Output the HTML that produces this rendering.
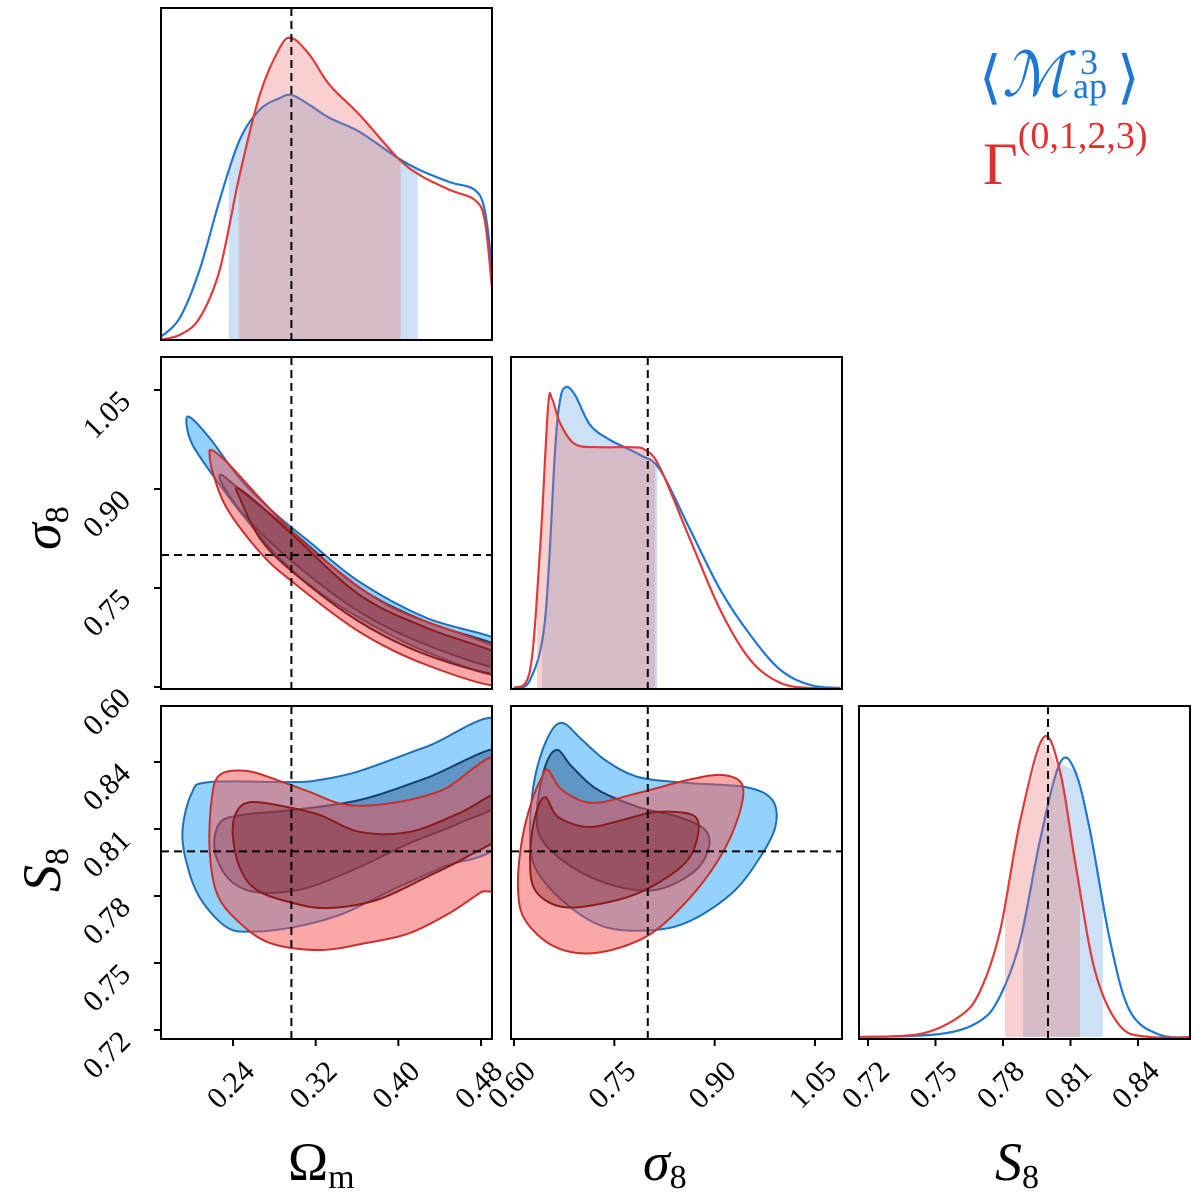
<!DOCTYPE html>
<html><head><meta charset="utf-8"><style>
body{margin:0;background:#fff}
svg{display:block}
text{font-family:"Liberation Serif","DejaVu Serif",serif;fill:#000}
</style></head><body>
<svg id="chart" width="1200" height="1200" viewBox="0 0 1200 1200" xmlns="http://www.w3.org/2000/svg">
<defs>
<clipPath id="c00"><rect x="161" y="8" width="331" height="332"/></clipPath>
<clipPath id="c01"><rect x="161" y="357" width="331" height="332"/></clipPath>
<clipPath id="c11"><rect x="511" y="357" width="331" height="332"/></clipPath>
<clipPath id="c02"><rect x="161" y="706" width="331" height="333"/></clipPath>
<clipPath id="c12"><rect x="511" y="706" width="331" height="333"/></clipPath>
<clipPath id="c22"><rect x="859" y="706" width="331" height="333"/></clipPath>
</defs>
<g id="layer"></g>
<g>
<text x="979" y="97" font-size="58" style="fill:#1f77d4">⟨</text>
<text x="1002" y="96" font-size="62" font-style="italic" style="fill:#1f77d4">ℳ</text>
<text x="1073" y="98" font-size="36" style="fill:#1f77d4">ap</text>
<text x="1080" y="74" font-size="36" style="fill:#1f77d4">3</text>
<text x="1117" y="97" font-size="58" style="fill:#1f77d4">⟩</text>
</g>
<text x="983" y="184" font-size="60" style="fill:#e03030">Γ<tspan font-size="38" dy="-36">(0,1,2,3)</tspan></text>
<text x="288" y="1180" font-size="54">Ω<tspan font-size="34" dy="8">m</tspan></text>
<text x="643" y="1180" font-size="54" font-style="italic">σ<tspan font-size="34" dy="8" font-style="normal">8</tspan></text>
<text x="995" y="1180" font-size="54" font-style="italic">S<tspan font-size="34" dy="8" font-style="normal">8</tspan></text>
<text transform="translate(60,528) rotate(-90)" font-size="54" font-style="italic" text-anchor="middle">σ<tspan font-size="34" dy="8" font-style="normal">8</tspan></text>
<text transform="translate(60,870) rotate(-90)" font-size="54" font-style="italic" text-anchor="middle">S<tspan font-size="34" dy="8" font-style="normal">8</tspan></text>
</svg>
<script>
// ---- data ----
const omTicks=[0.24,0.32,0.40,0.48];
const omTickLabels=["0.24","0.32","0.40","0.48"];
const sigTicks=[0.60,0.75,0.90,1.05];
const sigTickLabels=["0.60","0.75","0.90","1.05"];
const s8Ticks=[0.72,0.75,0.78,0.81,0.84];
const s8TickLabels=["0.72","0.75","0.78","0.81","0.84"];
const truthOm=0.2965, truthSig=0.80, truthS8=0.800;

const omGrid=[0.169,0.1884,0.2077,0.2271,0.2464,0.2658,0.2852,0.2968,0.3142,0.3336,0.3626,0.3994,0.4207,0.4497,0.4739,0.4836,0.4904,0.492];
const omBlue=[0.007,0.073,0.232,0.464,0.662,0.762,0.801,0.811,0.778,0.735,0.689,0.603,0.563,0.523,0.497,0.43,0.248,0.2];
const omRed=[0,0.017,0.073,0.232,0.546,0.811,0.967,1.0,0.944,0.844,0.745,0.603,0.546,0.497,0.464,0.397,0.182,0.13];
const omBlueCI=[0.2358,0.4188], omRedCI=[0.2455,0.4023];

const sigGridBlue=[0.6,0.624,0.6464,0.6614,0.6689,0.6778,0.6913,0.7138,0.7437,0.7886,0.8186,0.8635,0.9084,0.9533,0.9982,1.0431,1.088];
const sigBlue=[0,0.027,0.226,0.791,0.957,1.0,0.973,0.874,0.824,0.774,0.724,0.525,0.326,0.176,0.06,0.01,0];
const sigGridRed=[0.6,0.624,0.6389,0.6509,0.6569,0.6689,0.6913,0.7287,0.7737,0.7961,0.8186,0.8635,0.9084,0.9533,0.9982,1.0431,1.088];
const sigRed=[0,0.06,0.458,0.93,0.96,0.88,0.81,0.80,0.80,0.791,0.731,0.492,0.259,0.093,0.017,0,0];
const sigBlueCI=[0.6419,0.8141], sigRedCI=[0.6344,0.8111];

const s8GridBlue=[0.7155,0.752,0.7698,0.7787,0.7876,0.7964,0.8053,0.812,0.8187,0.8276,0.8364,0.8498,0.866];
const s8Blue=[0,0.01,0.054,0.137,0.321,0.656,0.916,0.890,0.689,0.321,0.087,0.007,0];
const s8GridRed=[0.7155,0.7431,0.7609,0.7698,0.7787,0.7876,0.7978,0.8053,0.812,0.8209,0.832,0.8453,0.866];
const s8Red=[0,0.01,0.07,0.154,0.355,0.722,1.0,0.89,0.589,0.221,0.037,0,0];
const s8BlueCI=[0.7889,0.8244], s8RedCI=[0.7809,0.8142];

// contours (x, y) in data units
const omSigBlueOuter=[[0.1951,0.997],[0.198,1.0091],[0.2174,0.9773],[0.2493,0.9106],[0.2823,0.8606],[0.3142,0.8197],[0.3626,0.7591],[0.4275,0.7045],[0.50,0.668],[0.50,0.617],[0.4275,0.653],[0.3626,0.7045],[0.3142,0.7545],[0.2823,0.80],[0.2493,0.8606],[0.2203,0.9212],[0.2009,0.9667]];
const omSigBlueInner=[[0.229,0.9212],[0.2493,0.8955],[0.2978,0.8348],[0.3626,0.75],[0.4275,0.6985],[0.50,0.66],[0.50,0.628],[0.4275,0.6636],[0.3626,0.7136],[0.2978,0.7894],[0.2532,0.8561],[0.23,0.9061]];
const omSigRedOuter=[[0.2174,0.9515],[0.2193,0.9591],[0.2339,0.9409],[0.2658,0.8864],[0.2978,0.8348],[0.3307,0.7894],[0.3946,0.7197],[0.50,0.654],[0.50,0.602],[0.4275,0.6333],[0.3626,0.6833],[0.2978,0.7591],[0.2658,0.8045],[0.2339,0.8712],[0.2203,0.9258]];
const omSigRedInner=[[0.2445,0.9015],[0.2658,0.8758],[0.2978,0.8303],[0.3626,0.7394],[0.4275,0.6894],[0.50,0.648],[0.50,0.618],[0.4275,0.6485],[0.3626,0.6985],[0.2978,0.7742],[0.2658,0.8258],[0.2465,0.8864]];

const omS8BlueOuter=[[0.50,0.858],[0.428,0.847],[0.363,0.836],[0.324,0.832],[0.298,0.831],[0.217,0.831],[0.200,0.826],[0.191,0.808],[0.198,0.790],[0.211,0.777],[0.234,0.766],[0.257,0.764],[0.298,0.766],[0.346,0.772],[0.395,0.783],[0.443,0.793],[0.50,0.806]];
const omS8BlueInner=[[0.50,0.846],[0.4275,0.8329],[0.3626,0.823],[0.2978,0.8185],[0.2493,0.8163],[0.2271,0.8127],[0.2222,0.8006],[0.2342,0.7885],[0.2532,0.7827],[0.2784,0.7814],[0.3142,0.784],[0.3626,0.793],[0.411,0.8037],[0.4594,0.8127],[0.50,0.823]];
const omS8RedOuter=[[0.50,0.841],[0.443,0.8275],[0.3946,0.8217],[0.35,0.8208],[0.3142,0.8266],[0.2823,0.832],[0.2532,0.836],[0.2271,0.8342],[0.2193,0.823],[0.2174,0.8006],[0.2242,0.7814],[0.2435,0.7693],[0.2755,0.759],[0.3239,0.7558],[0.3694,0.759],[0.411,0.7634],[0.4497,0.7724],[0.4788,0.7814],[0.50,0.788]];
const omS8RedInner=[[0.50,0.826],[0.4594,0.8172],[0.411,0.8087],[0.3626,0.8087],[0.3239,0.8163],[0.2919,0.8199],[0.259,0.8221],[0.2445,0.8185],[0.2397,0.8082],[0.2464,0.793],[0.2629,0.7827],[0.2978,0.7769],[0.3307,0.7746],[0.3791,0.7782],[0.4275,0.7885],[0.4662,0.7975],[0.50,0.808]];

const sigS8BlueOuter=[[0.6719,0.8575],[0.7018,0.8499],[0.7362,0.8409],[0.7856,0.8333],[0.8605,0.8306],[0.9458,0.8288],[0.9862,0.823],[0.9907,0.8109],[0.9653,0.7961],[0.9263,0.7814],[0.8665,0.7693],[0.8111,0.7648],[0.7362,0.7661],[0.6763,0.7769],[0.6314,0.793],[0.624,0.8109],[0.6314,0.8333],[0.6509,0.8512]];
const sigS8BlueInner=[[0.6644,0.8454],[0.6868,0.8378],[0.7257,0.8275],[0.7856,0.8199],[0.8455,0.8154],[0.8859,0.8096],[0.8904,0.8006],[0.8665,0.7903],[0.8111,0.7827],[0.7467,0.7849],[0.6868,0.793],[0.6419,0.8051],[0.6344,0.8185],[0.6464,0.8378]];
const sigS8RedOuter=[[0.6509,0.8364],[0.6719,0.8275],[0.7168,0.8217],[0.7856,0.8261],[0.8605,0.832],[0.9114,0.8342],[0.9413,0.8297],[0.9353,0.8154],[0.9054,0.7961],[0.856,0.7769],[0.7961,0.7616],[0.7213,0.7545],[0.6614,0.7572],[0.6165,0.7693],[0.606,0.784],[0.612,0.8051],[0.627,0.823],[0.6419,0.8333]];
const sigS8RedInner=[[0.6464,0.8243],[0.6659,0.8154],[0.7108,0.8109],[0.7617,0.814],[0.8111,0.8176],[0.8665,0.8163],[0.8754,0.8082],[0.856,0.7948],[0.7961,0.7827],[0.7362,0.7769],[0.6719,0.7751],[0.6314,0.7827],[0.624,0.7975],[0.6314,0.8154]];

// ---- axes ----
const lin=(d0,d1,r0,r1)=>v=>r0+(v-d0)/(d1-d0)*(r1-r0);
const xOm=lin(0.24,0.48,233,481);
const ySig=lin(0.60,1.05,687,390);
const xSig=lin(0.60,1.05,514,815);
const yS8=lin(0.72,0.84,1030,762);
const xS8=lin(0.72,0.84,868,1138);
const NS="http://www.w3.org/2000/svg";
const layer=document.getElementById('layer');
function el(tag,attrs,parent){const e=document.createElementNS(NS,tag);for(const k in attrs)e.setAttribute(k,attrs[k]);(parent||layer).appendChild(e);return e;}
function smooth(pts,closed){
  const n=pts.length;let d=`M${pts[0][0].toFixed(1)},${pts[0][1].toFixed(1)}`;
  const g=i=>closed?pts[(i+n)%n]:pts[Math.max(0,Math.min(n-1,i))];
  const m=closed?n:n-1;
  for(let i=0;i<m;i++){const p0=g(i-1),p1=g(i),p2=g(i+1),p3=g(i+2);
    const c1=[p1[0]+(p2[0]-p0[0])/6,p1[1]+(p2[1]-p0[1])/6],c2=[p2[0]-(p3[0]-p1[0])/6,p2[1]-(p3[1]-p1[1])/6];
    d+=`C${c1[0].toFixed(1)},${c1[1].toFixed(1)} ${c2[0].toFixed(1)},${c2[1].toFixed(1)} ${p2[0].toFixed(1)},${p2[1].toFixed(1)}`;}
  return d+(closed?'Z':'');
}
const styles={
  blueOuter:{fill:'rgba(40,165,245,0.5)',stroke:'#1f6fb8'},
  blueInner:{fill:'rgba(20,60,120,0.40)',stroke:'#163f70'},
  redOuter:{fill:'rgba(245,80,80,0.5)',stroke:'#c8302e'},
  redInner:{fill:'rgba(120,20,30,0.35)',stroke:'#8a1c1c'}
};
function contour(data,fx,fy,st,clip,name){
  const pts=data.map(p=>[fx(p[0]),fy(p[1])]);
  const p=el('path',{d:smooth(pts,true),fill:st.fill,stroke:st.stroke,'stroke-width':2,'clip-path':`url(#${clip})`});
  
  
}
function density(grid,vals,fx,base,height,ci,lineColor,fillColor,clip,name){
  const pts=grid.map((g,i)=>[fx(g),base-vals[i]*height]);
  const interp=v=>{for(let i=0;i<grid.length-1;i++){if(v>=grid[i]&&v<=grid[i+1]){const t=(v-grid[i])/(grid[i+1]-grid[i]);return vals[i]+t*(vals[i+1]-vals[i]);}}return 0;};
  const fp=[[fx(ci[0]),base]];fp.push([fx(ci[0]),base-interp(ci[0])*height]);
  grid.forEach((g,i)=>{if(g>ci[0]&&g<ci[1])fp.push([fx(g),base-vals[i]*height]);});
  fp.push([fx(ci[1]),base-interp(ci[1])*height]);fp.push([fx(ci[1]),base]);
  const f=el('path',{d:'M'+fp.map(p=>p[0].toFixed(1)+','+p[1].toFixed(1)).join('L')+'Z',fill:fillColor,'clip-path':`url(#${clip})`});
  
  
  const l=el('path',{d:smooth(pts,false),fill:'none',stroke:lineColor,'stroke-width':2.2,'clip-path':`url(#${clip})`});
  
  
}
const BL='#1f77d4', RD='#e03a3a', BF='rgba(120,175,230,0.38)', RF='rgba(235,110,110,0.32)';
density(omGrid,omBlue,xOm,340,302,omBlueCI,BL,BF,'c00','omega-m-blue');
density(omGrid,omRed,xOm,340,302,omRedCI,RD,RF,'c00','omega-m-red');
density(sigGridBlue,sigBlue,xSig,688,301,sigBlueCI,BL,BF,'c11','sigma8-blue');
density(sigGridRed,sigRed,xSig,688,301,sigRedCI,RD,RF,'c11','sigma8-red');
density(s8GridBlue,s8Blue,xS8,1037,299,s8BlueCI,BL,BF,'c22','s8-blue');
density(s8GridRed,s8Red,xS8,1037,299,s8RedCI,RD,RF,'c22','s8-red');
contour(omSigBlueOuter,xOm,ySig,styles.blueOuter,'c01','om-sigma8-blue-outer');
contour(omSigBlueInner,xOm,ySig,styles.blueInner,'c01','om-sigma8-blue-inner');
contour(omSigRedOuter,xOm,ySig,styles.redOuter,'c01','om-sigma8-red-outer');
contour(omSigRedInner,xOm,ySig,styles.redInner,'c01','om-sigma8-red-inner');
contour(omS8BlueOuter,xOm,yS8,styles.blueOuter,'c02','om-s8-blue-outer');
contour(omS8BlueInner,xOm,yS8,styles.blueInner,'c02','om-s8-blue-inner');
contour(omS8RedOuter,xOm,yS8,styles.redOuter,'c02','om-s8-red-outer');
contour(omS8RedInner,xOm,yS8,styles.redInner,'c02','om-s8-red-inner');
contour(sigS8BlueOuter,xSig,yS8,styles.blueOuter,'c12','sigma8-s8-blue-outer');
contour(sigS8BlueInner,xSig,yS8,styles.blueInner,'c12','sigma8-s8-blue-inner');
contour(sigS8RedOuter,xSig,yS8,styles.redOuter,'c12','sigma8-s8-red-outer');
contour(sigS8RedInner,xSig,yS8,styles.redInner,'c12','sigma8-s8-red-inner');
function dash(x1,y1,x2,y2,name){const l=el('line',{x1,y1,x2,y2,stroke:'#000','stroke-width':2,'stroke-dasharray':'8,5'});
  
  }
dash(xOm(truthOm),8,xOm(truthOm),340,'truth-om-top');
dash(xOm(truthOm),357,xOm(truthOm),689,'truth-om-mid');
dash(xOm(truthOm),706,xOm(truthOm),1039,'truth-om-bottom');
dash(161,ySig(truthSig),492,ySig(truthSig),'truth-sigma8-h');
dash(xSig(truthSig),357,xSig(truthSig),689,'truth-sigma8-v1');
dash(xSig(truthSig),706,xSig(truthSig),1039,'truth-sigma8-v2');
dash(161,yS8(truthS8),492,yS8(truthS8),'truth-s8-h1');
dash(511,yS8(truthS8),842,yS8(truthS8),'truth-s8-h2');
dash(xS8(truthS8),706,xS8(truthS8),1039,'truth-s8-v');
const frames=[[161,8,492,340,'panel-omega-m'],[161,357,492,689,'panel-om-sigma8'],[511,357,842,689,'panel-sigma8'],[161,706,492,1039,'panel-om-s8'],[511,706,842,1039,'panel-sigma8-s8'],[859,706,1190,1039,'panel-s8']];
frames.forEach(f=>{const r=el('rect',{x:f[0],y:f[1],width:f[2]-f[0],height:f[3]-f[1],fill:'none',stroke:'#000','stroke-width':2});
  
  });
function xTicks(ticks,labels,fx,yb){ticks.forEach((t,i)=>{const x=fx(t);el('line',{x1:x,y1:yb,x2:x,y2:yb+7,stroke:'#000','stroke-width':2});
  const tx=el('text',{transform:`translate(${x+23},${yb+34}) rotate(-45)`,'text-anchor':'end','font-size':30});tx.textContent=labels[i];
  
  });}
function yTicks(ticks,labels,fy,xl){ticks.forEach((t,i)=>{const y=fy(t);el('line',{x1:xl-7,y1:y,x2:xl,y2:y,stroke:'#000','stroke-width':2});
  const tx=el('text',{transform:`translate(${xl-29},${y+13}) rotate(-45)`,'text-anchor':'end','font-size':30});tx.textContent=labels[i];
  
  });}
xTicks(omTicks,omTickLabels,xOm,1039);
xTicks(sigTicks,sigTickLabels,xSig,1039);
xTicks(s8Ticks,s8TickLabels,xS8,1039);
yTicks(sigTicks,sigTickLabels,ySig,161);
yTicks(s8Ticks,s8TickLabels,yS8,161);
</script>
</body></html>
